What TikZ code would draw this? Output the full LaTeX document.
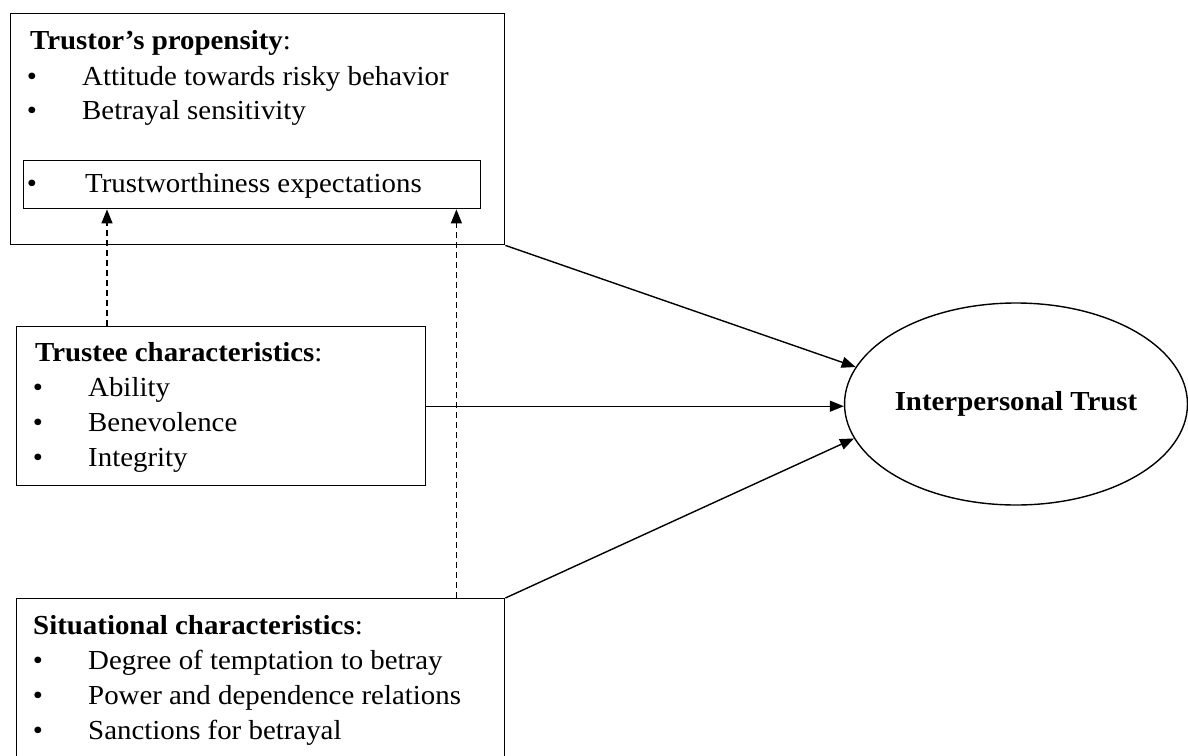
\documentclass[tikz,border=0pt]{standalone}
\usepackage{fontspec}
\setmainfont{Liberation Serif}[FakeStretch=1.05]
\usetikzlibrary{arrows.meta,shapes.geometric}
\begin{document}
\begin{tikzpicture}[x=1pt,y=-1pt,
  box/.style={draw,line width=1.4pt,inner sep=0pt,anchor=north west},
  txt/.style={anchor=base west,inner sep=0pt,font=\fontsize{27.5}{33}\selectfont},
  bul/.style={anchor=base,inner sep=0pt,font=\fontsize{27.5}{33}\selectfont},
  conn/.style={line width=1.4pt,-{Triangle[length=14pt,width=11pt]}},
  dconn/.style={conn,dash pattern=on 6pt off 4pt}]
\useasboundingbox (0,0) rectangle (1188,755);

% Trustor's propensity
\node[box,minimum width=494pt,minimum height=231pt] (trustor) at (10,13) {};
\node[txt] (tr0) at (30,49) {\textbf{Trustor’s propensity}:};
\node[bul] (trb1) at (32,85) {•};
\node[txt] (tr1) at (82,85) {Attitude towards risky behavior};
\node[bul] (trb2) at (32,119) {•};
\node[txt] (tr2) at (82,119) {Betrayal sensitivity};
\node[box,minimum width=457pt,minimum height=48pt] (inner) at (23,160) {};
\node[bul] (inb) at (32,192) {•};
\node[txt] (in1) at (85,192) {Trustworthiness expectations};

% Trustee characteristics
\node[box,minimum width=409pt,minimum height=159pt] (trustee) at (16,326) {};
\node[txt] (te0) at (35,361) {\textbf{Trustee characteristics}:};
\node[bul] (teb1) at (38,396) {•};
\node[txt] (te1) at (88,396) {Ability};
\node[bul] (teb2) at (38,431) {•};
\node[txt] (te2) at (88,431) {Benevolence};
\node[bul] (teb3) at (38,466) {•};
\node[txt] (te3) at (88,466) {Integrity};

% Situational characteristics
\node[box,minimum width=488pt,minimum height=170pt] (situ) at (16,598) {};
\node[txt] (si0) at (33,634) {\textbf{Situational characteristics}:};
\node[bul] (sib1) at (38,669) {•};
\node[txt] (si1) at (88,669) {Degree of temptation to betray};
\node[bul] (sib2) at (38,704) {•};
\node[txt] (si2) at (88,704) {Power and dependence relations};
\node[bul] (sib3) at (38,739) {•};
\node[txt] (si3) at (88,739) {Sanctions for betrayal};

% Interpersonal trust
\node[draw,ellipse,line width=1.4pt,minimum width=340pt,minimum height=202pt,inner sep=0pt,
      font=\bfseries\fontsize{27.5}{33}\selectfont] (trust) at (1016,404) {Interpersonal Trust};

% connectors
\draw[conn] (trustor.south east) -- (trust.167);
\draw[conn] (trustee.east) -- (trustee.east -| trust.west);
\draw[conn] (situ.north east) -- (trust.192);
\draw[dconn] ([xshift=91pt]trustee.north west) -- ([xshift=91pt]trustee.north west |- inner.south);
\draw[dconn] ([xshift=-49pt]situ.north east) -- ([xshift=-49pt]situ.north east |- inner.south);
\end{tikzpicture}
\end{document}
